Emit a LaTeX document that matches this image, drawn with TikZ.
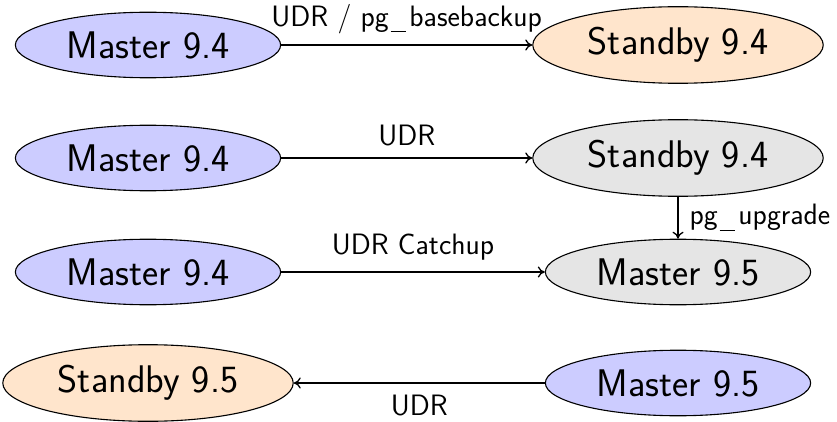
\documentclass[tikz,border=0pt]{standalone}
\usepackage{fontspec}
\usetikzlibrary{shapes.geometric,arrows.meta}
\newcommand{\usc}{\kern0.06em\rule[-0.2em]{0.52em}{1.2pt}\kern0.12em}
\begin{document}
\begin{tikzpicture}[x=1pt,y=-1pt,
  st/.style={ellipse,draw,line width=1.1pt,inner xsep=12.5pt,inner ysep=9.5pt,font=\sffamily\fontsize{38.5}{40}\selectfont},
  mst/.style={st,fill=blue!20},
  sby/.style={st,fill=orange!20},
  gry/.style={st,fill=gray!20},
  conn/.style={-{To[length=7pt,width=11pt]},line width=1.3pt},
  lbl/.style={font=\sffamily\fontsize{29.5}{31}\selectfont,inner sep=0pt}]
\useasboundingbox (0,0) rectangle (837,422);
\node[mst] (m1) at (148,45) {Master 9.4};
\node[sby] (s1) at (678,45) {Standby 9.4};
\node[mst] (m2) at (148,158) {Master 9.4};
\node[gry] (s2) at (678,158) {Standby 9.4};
\node[mst] (m3) at (148,272) {Master 9.4};
\node[gry] (n3) at (678,272) {Master 9.5};
\node[sby] (s4) at (148,383) {Standby 9.5};
\node[mst] (m4) at (678,383) {Master 9.5};
\draw[conn] (m1) -- node[lbl,above=11pt] {UDR / pg\usc basebackup} (s1);
\draw[conn] (m2) -- node[lbl,above=11pt] {UDR} (s2);
\draw[conn] (m3) -- node[lbl,above=11pt] {UDR Catchup} (n3);
\draw[conn] (m4) -- node[lbl,below=11pt] {UDR} (s4);
\draw[conn] (s2) -- node[lbl,right=11pt] {pg\usc upgrade} (n3);
\end{tikzpicture}
\end{document}
